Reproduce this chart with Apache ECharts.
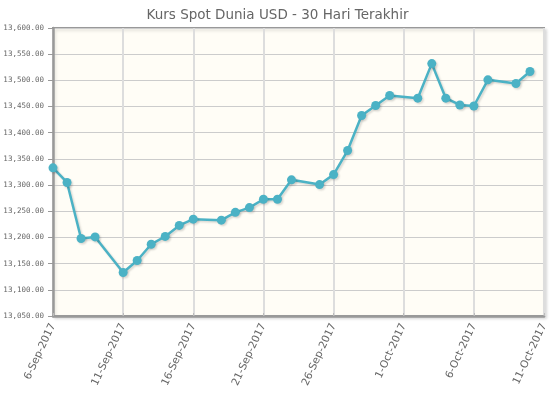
<!DOCTYPE html>
<html>
<head>
<meta charset="utf-8">
<script src="https://cdn.jsdelivr.net/npm/echarts@6/dist/echarts.min.js"></script>
<style>
html,body{margin:0;padding:0;background:#fff;}
#chart{width:555px;height:400px;}
</style>
</head>
<body>
<div id="chart"></div>
<script>
var titleText = "Kurs Spot Dunia USD - 30 Hari Terakhir";
var dates = ["2017-09-06","2017-09-07","2017-09-08","2017-09-09","2017-09-11","2017-09-12","2017-09-13","2017-09-14","2017-09-15","2017-09-16","2017-09-18","2017-09-19","2017-09-20","2017-09-21","2017-09-22","2017-09-23","2017-09-25","2017-09-26","2017-09-27","2017-09-28","2017-09-29","2017-09-30","2017-10-02","2017-10-03","2017-10-04","2017-10-05","2017-10-06","2017-10-07","2017-10-09","2017-10-10"];
var rates = [13333,13305,13198,13201,13133,13156,13187,13202,13223,13235,13233,13248,13257,13273,13273,13310,13301,13320,13366,13433,13452,13471,13466,13532,13466,13453,13451,13501,13494,13517];
var xStart = "2017-09-06";
var xEnd = "2017-10-11";
var xStepDays = 5;
var yMin = 13050, yMax = 13600, yStep = 50;
var monthNames = ["Jan","Feb","Mar","Apr","May","Jun","Jul","Aug","Sep","Oct","Nov","Dec"];

function toMs(s){var p=s.split("-");return Date.UTC(+p[0],+p[1]-1,+p[2]);}
function fmtDate(v){var d=new Date(v);return d.getUTCDate()+"-"+monthNames[d.getUTCMonth()]+"-"+d.getUTCFullYear();}
function fmtNum(v){var s=v.toFixed(2);var parts=s.split(".");parts[0]=parts[0].replace(/\B(?=(\d{3})+(?!\d))/g,",");return parts.join(".");}

var seriesData = dates.map(function(d,i){return [toMs(d), rates[i]];});
var chart = echarts.init(document.getElementById('chart'));
chart.setOption({
  animation:false,
  backgroundColor:'#ffffff',
  title:{text:titleText,left:'center',top:3,textStyle:{fontFamily:'DejaVu Sans',fontSize:13.5,fontWeight:'normal',color:'#666666'}},
  grid:{left:53,right:11,top:28,bottom:84,show:true,backgroundColor:'#fffdf6',borderColor:'#999999',borderWidth:2,shadowColor:'rgba(0,0,0,0.12)',shadowBlur:3,shadowOffsetX:2,shadowOffsetY:2},
  xAxis:{type:'value',min:toMs(xStart),max:toMs(xEnd),interval:xStepDays*86400000,
    axisLine:{show:true,lineStyle:{color:'#999999',width:2.5}},
    axisTick:{show:true,inside:true,length:3,lineStyle:{color:'#bbbbbb'}},
    splitLine:{show:true,lineStyle:{color:'#dddddd',width:2}},
    axisLabel:{rotate:65,margin:8,color:'#666666',fontFamily:'DejaVu Sans',fontSize:10.5,formatter:function(v){return fmtDate(v);},showMinLabel:true,showMaxLabel:true}},
  yAxis:{type:'value',min:yMin,max:yMax,interval:yStep,
    axisLine:{show:true,lineStyle:{color:'#999999',width:2.5}},
    axisTick:{show:true,length:5,lineStyle:{color:'#999999'}},
    splitLine:{show:true,lineStyle:{color:'#cccccc',width:1}},
    axisLabel:{margin:9,color:'#666666',fontFamily:'DejaVu Sans Mono',fontSize:7.5,formatter:function(v){return fmtNum(v);}}},
  series:[{type:'line',data:seriesData,clip:false,symbol:'circle',symbolSize:9,
    lineStyle:{color:'#4bb2c5',width:2.5,shadowColor:'rgba(0,0,0,0.15)',shadowBlur:2,shadowOffsetX:1.5,shadowOffsetY:1.5},
    itemStyle:{color:'#4bb2c5',shadowColor:'rgba(0,0,0,0.15)',shadowBlur:2,shadowOffsetX:1.5,shadowOffsetY:1.5}}]
});
</script>
</body>
</html>
